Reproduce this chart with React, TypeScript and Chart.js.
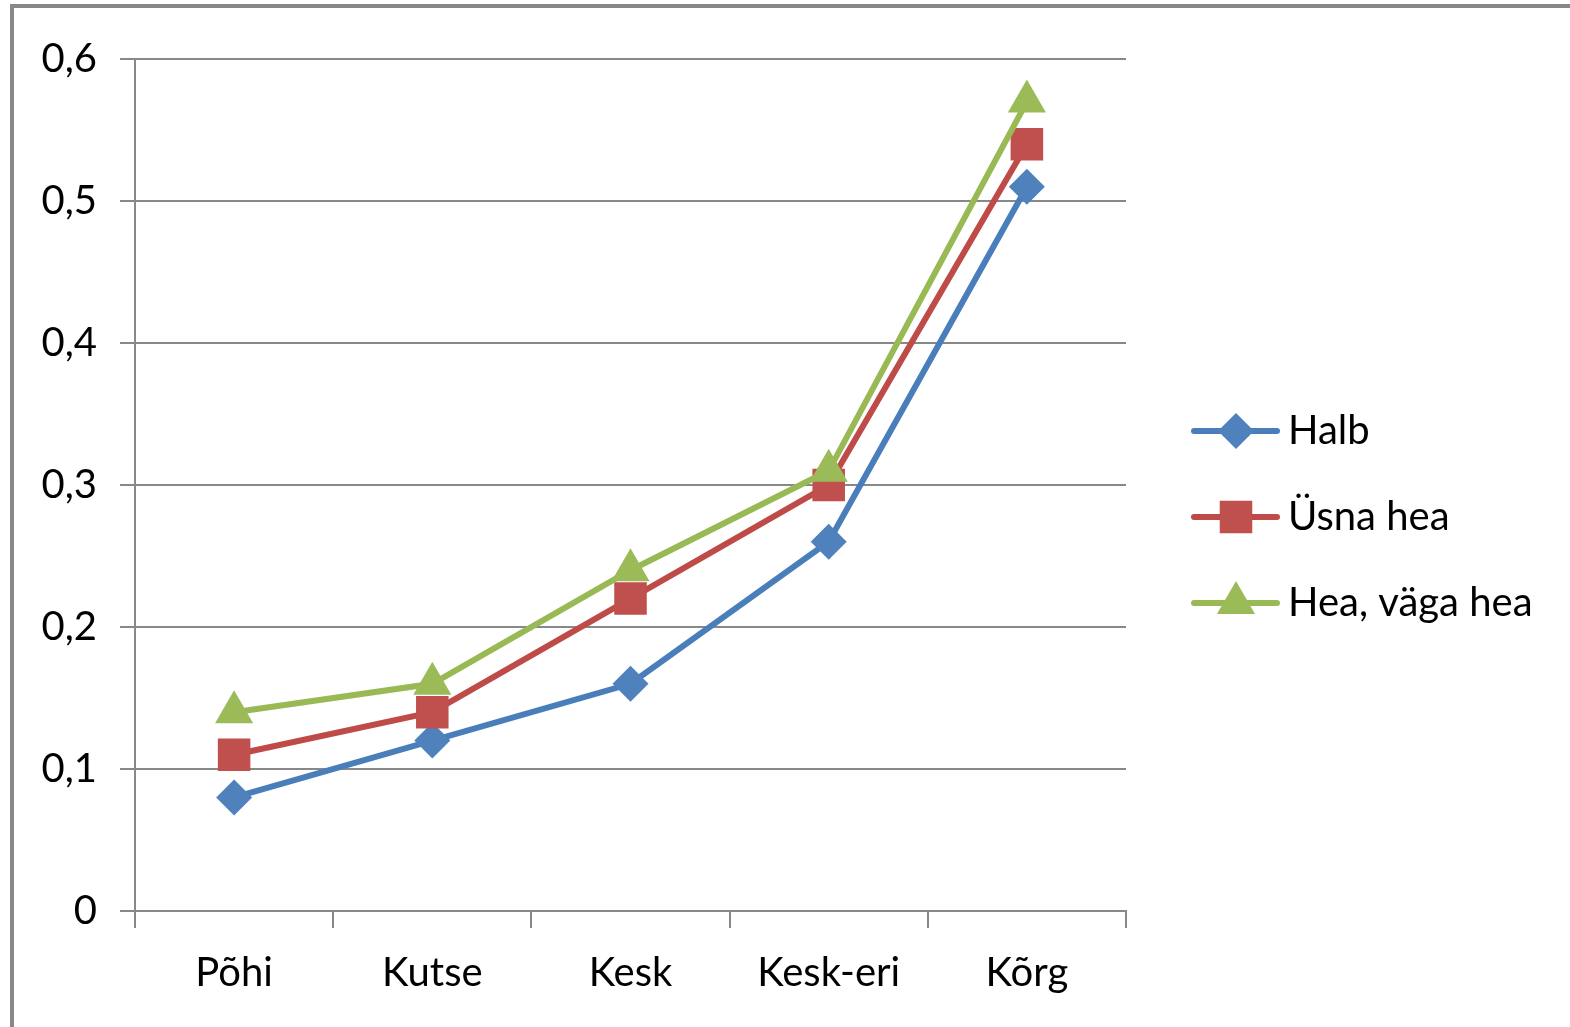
import React, { useEffect, useRef } from "react";
import { Chart, registerables } from "chart.js";

Chart.register(...registerables);

const categories = ["Põhi", "Kutse", "Kesk", "Kesk-eri", "Kõrg"];
const seriesNames = ["Halb", "Üsna hea", "Hea, väga hea"];
const halb = [0.08, 0.12, 0.16, 0.26, 0.51];
const usnaHea = [0.11, 0.14, 0.22, 0.3, 0.54];
const heaVagaHea = [0.14, 0.16, 0.24, 0.31, 0.57];
const lineColors = ["#4A7EBB", "#BE4B48", "#98B954"];
const markerColors = ["#4F81BD", "#C0504D", "#9BBB59"];
const markerStyles = ["rectRot", "rect", "triangle"];
const markerRadii = [18, 23, 22];

const FONT = "Lato, 'Open Sans', sans-serif";
const GRID = "#888888";

function drawMarker(ctx: CanvasRenderingContext2D, style: string, x: number, y: number, r: number) {
  ctx.beginPath();
  if (style === "rectRot") {
    ctx.moveTo(x - r, y);
    ctx.lineTo(x, y - r);
    ctx.lineTo(x + r, y);
    ctx.lineTo(x, y + r);
  } else if (style === "rect") {
    const s = Math.SQRT1_2 * r;
    ctx.rect(x - s, y - s, 2 * s, 2 * s);
  } else {
    const a = (2 * Math.PI) / 3;
    ctx.moveTo(x, y - r);
    ctx.lineTo(x + Math.sin(a) * r, y - Math.cos(a) * r);
    ctx.lineTo(x + Math.sin(2 * a) * r, y - Math.cos(2 * a) * r);
  }
  ctx.closePath();
  ctx.fill();
}

const legendPlugin = {
  id: "excelLegend",
  afterDraw(chart: any) {
    const ctx = chart.ctx as CanvasRenderingContext2D;
    const ys = [431, 517, 603];
    ctx.save();
    seriesNames.forEach((name, i) => {
      const y = ys[i];
      ctx.strokeStyle = lineColors[i];
      ctx.lineWidth = 6;
      ctx.lineCap = "round";
      ctx.beginPath();
      ctx.moveTo(1194, y);
      ctx.lineTo(1277, y);
      ctx.stroke();
      ctx.fillStyle = markerColors[i];
      drawMarker(ctx, markerStyles[i], 1236, y, markerRadii[i]);
      ctx.fillStyle = "#000";
      ctx.font = `40px ${FONT}`;
      ctx.textAlign = "left";
      ctx.textBaseline = "middle";
      ctx.fillText(name, 1288, y);
    });
    ctx.restore();
  },
};

export default function App() {
  const ref = useRef<HTMLCanvasElement | null>(null);

  useEffect(() => {
    if (!ref.current) return;
    const data = [halb, usnaHea, heaVagaHea];
    const chart = new Chart(ref.current, {
      type: "line",
      data: {
        labels: categories,
        datasets: data.map((d, i) => ({
          label: seriesNames[i],
          data: d,
          borderColor: lineColors[i],
          backgroundColor: markerColors[i],
          borderWidth: 6,
          pointStyle: markerStyles[i] as any,
          pointRadius: markerRadii[i],
          pointBackgroundColor: markerColors[i],
          pointBorderColor: markerColors[i],
          pointBorderWidth: 0,
          tension: 0,
          order: 3 - i,
        })),
      },
      options: {
        responsive: false,
        animation: false,
        devicePixelRatio: 1,
        layout: { padding: { left: 0, right: 444, top: 59, bottom: 0 } },
        plugins: { legend: { display: false }, tooltip: { enabled: false } },
        scales: {
          x: {
            offset: true,
            grid: {
              offset: true,
              drawOnChartArea: false,
              drawTicks: true,
              tickLength: 17,
              color: GRID,
              lineWidth: 2,
            },
            border: { display: true, color: GRID, width: 2 },
            ticks: {
              color: "#000",
              font: { family: FONT, size: 40 },
              padding: 21,
              maxRotation: 0,
            },
            afterFit: (scale: any) => {
              scale.height = 116;
            },
          },
          y: {
            min: 0,
            max: 0.6,
            grid: {
              color: GRID,
              lineWidth: 2,
              drawTicks: true,
              tickLength: 15,
            },
            border: { display: true, color: GRID, width: 2 },
            ticks: {
              stepSize: 0.1,
              color: "#000",
              font: { family: FONT, size: 40 },
              padding: 23,
              callback: (v: any) => {
                const n = Number(v);
                return n === 0 ? "0" : n.toFixed(1).replace(".", ",");
              },
            },
            afterFit: (scale: any) => {
              scale.width = 135;
            },
          },
        },
      },
      plugins: [legendPlugin],
    });
    return () => chart.destroy();
  }, []);

  return (
    <div style={{ position: "absolute", left: 0, top: 0, width: 1570, height: 1027, background: "#fff", overflow: "hidden" }}>
      <div
        style={{
          position: "absolute",
          left: 10,
          top: 4,
          width: 1600,
          height: 1100,
          borderTop: "4px solid #888888",
          borderLeft: "4px solid #888888",
          boxSizing: "border-box",
        }}
      />
      <canvas ref={ref} width={1570} height={1027} style={{ position: "absolute", left: 0, top: 0, width: 1570, height: 1027 }} />
    </div>
  );
}
